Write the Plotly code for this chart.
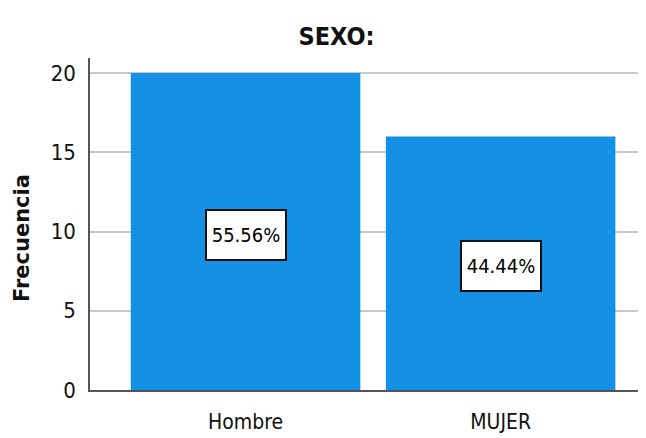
import plotly.graph_objects as go

categories = ["Hombre", "MUJER"]
frecuencia = [20, 16]
porcentajes = ["55.56%", "44.44%"]
y_ticks = [0, 5, 10, 15, 20]

FONT = "DejaVu Sans Condensed, Liberation Sans Narrow, Arial Narrow, Liberation Sans, sans-serif"
WIDE = "DejaVu Sans, Liberation Sans, Arial, sans-serif"
bar_color = "#1490e4"

fig = go.Figure()
fig.add_trace(go.Bar(
    x=[0, 1], y=frecuencia, width=0.9,
    marker=dict(color=bar_color, line=dict(width=0)),
    hoverinfo="skip",
))

for i, (v, p) in enumerate(zip(frecuencia, porcentajes)):
    fig.add_annotation(
        x=i, y=v / 2, text=p, showarrow=False, yshift=-3,
        font=dict(family=FONT, size=20, color="#000"),
        width=76, height=46,
        bgcolor="white", bordercolor="#111", borderwidth=2, borderpad=1,
    )

# y-axis title placed as annotation to match reference position
fig.add_annotation(
    xref="paper", yref="paper", x=-0.122, y=0.458, text="<b>Frecuencia</b>",
    textangle=-90, showarrow=False, xanchor="center", yanchor="middle",
    font=dict(family=WIDE, size=21, color="#111"),
)

fig.update_layout(
    width=638, height=430,
    margin=dict(l=82, r=0, t=50, b=48),
    paper_bgcolor="white", plot_bgcolor="white",
    showlegend=False,
    title=dict(text="<b>SEXO:</b>", x=0.515, xanchor="center", y=0.935, yanchor="middle",
               font=dict(family=FONT, size=25, color="#111")),
    font=dict(family=FONT, color="#111"),
)
fig.update_xaxes(
    range=[-0.61, 1.57], tickvals=[0, 1], ticktext=categories,
    showgrid=False, zeroline=False, showline=True, linecolor="#555", linewidth=1.5,
    ticks="", tickfont=dict(family=FONT, size=21, color="#111"), ticklabelstandoff=12,
)
fig.update_yaxes(
    range=[0, 20.95], tickvals=y_ticks,
    showgrid=True, gridcolor="#c8c8c8", gridwidth=1.5, zeroline=False,
    showline=True, linecolor="#555", linewidth=1.5,
    ticks="", tickfont=dict(family=FONT, size=22, color="#111"), ticklabelstandoff=8,
)

fig.write_html("out.html")
